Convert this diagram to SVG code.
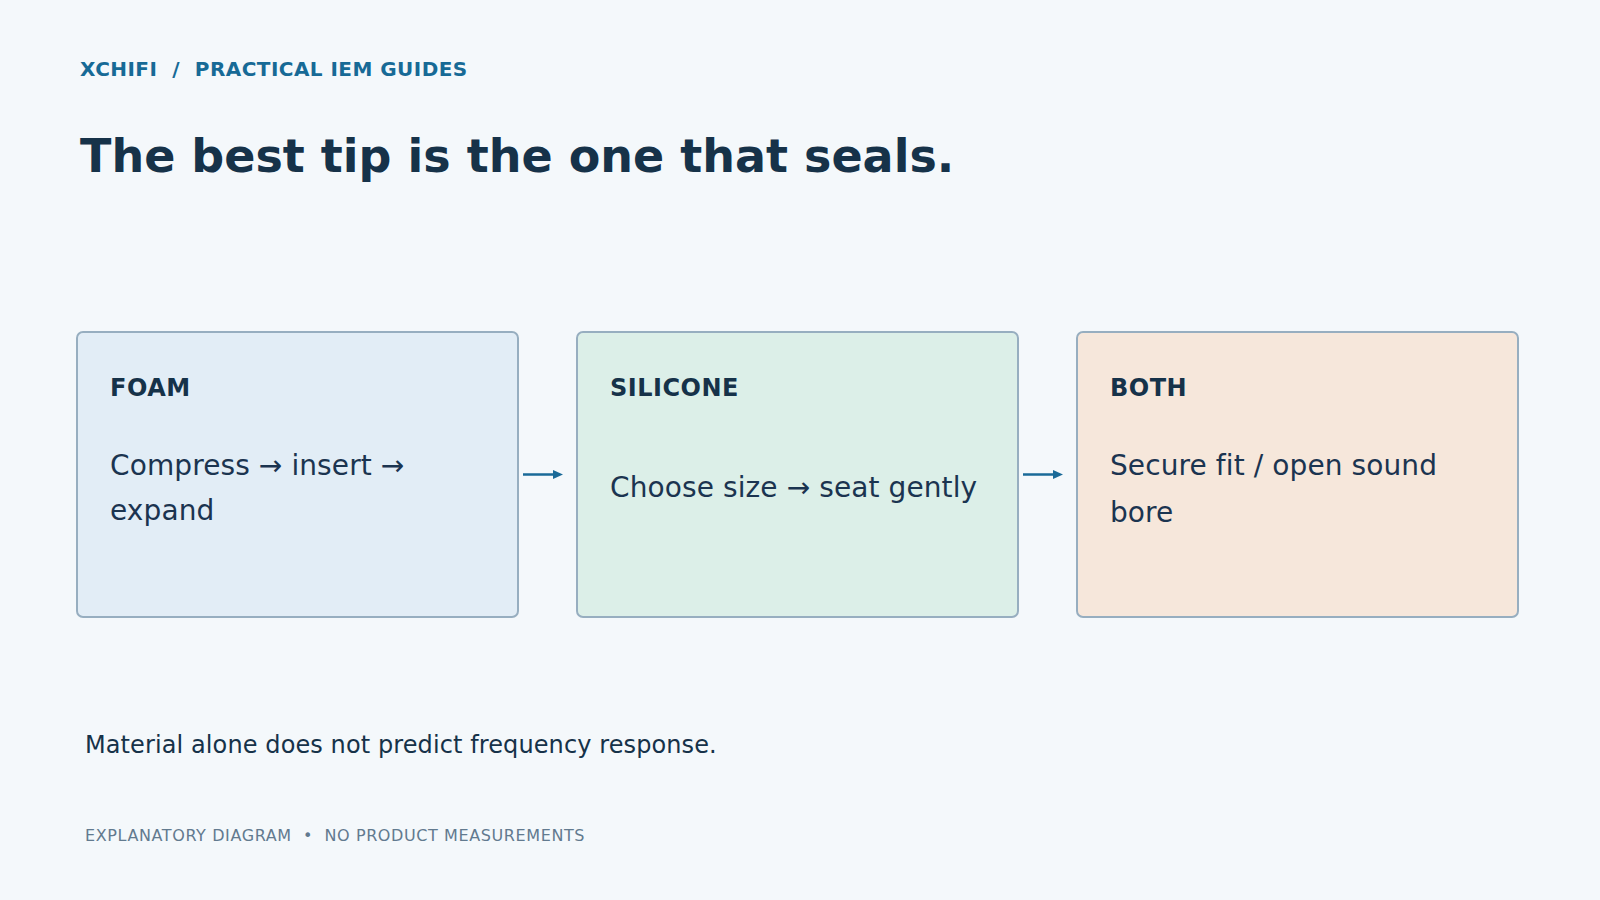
<svg xmlns="http://www.w3.org/2000/svg" width="1600" height="900" viewBox="0 0 1600 900">
  <style>
    text { font-family: "DejaVu Sans", "Liberation Sans", sans-serif; }
    .kicker { font-size: 20px; font-weight: bold; fill: #176a96; letter-spacing: 0.45px; white-space: pre; }
    .title { font-size: 46px; font-weight: bold; fill: #163249; }
    .box { stroke: #97aec0; stroke-width: 2; }
    .head { font-size: 24px; font-weight: bold; fill: #163249; letter-spacing: 0.5px; }
    .body { font-size: 28px; fill: #1b3450; letter-spacing: 0.1px; }
    .note { font-size: 24px; fill: #163249; letter-spacing: 0.1px; }
    .foot { font-size: 16px; fill: #627a8f; letter-spacing: 0.6px; white-space: pre; }
    .conn { stroke: #1a6a98; stroke-width: 2.5; fill: none; }
  </style>
  <defs>
    <marker id="arrow" markerUnits="userSpaceOnUse" markerWidth="10" markerHeight="9" refX="1" refY="4.5" orient="auto">
      <path d="M0,0 L10,4.5 L0,9 z" fill="#1a6a98"/>
    </marker>
  </defs>
  <rect x="0" y="0" width="1600" height="900" fill="#f4f8fb"/>

  <text class="kicker" x="80" y="76" xml:space="preserve">XCHIFI  /  PRACTICAL IEM GUIDES</text>
  <text class="title" x="80" y="172">The best tip is the one that seals.</text>

  <g id="node-foam">
    <rect class="box" x="77" y="332" width="441" height="285" rx="6" fill="#e2edf6"/>
    <text class="head" x="110" y="396">FOAM</text>
    <text class="body" x="110" y="475">Compress → insert →</text>
    <text class="body" x="110" y="520">expand</text>
  </g>

  <g id="node-silicone">
    <rect class="box" x="577" y="332" width="441" height="285" rx="6" fill="#dcefe8"/>
    <text class="head" x="610" y="396">SILICONE</text>
    <text class="body" x="610" y="497">Choose size → seat gently</text>
  </g>

  <g id="node-both">
    <rect class="box" x="1077" y="332" width="441" height="285" rx="6" fill="#f6e7db"/>
    <text class="head" x="1110" y="396">BOTH</text>
    <text class="body" x="1110" y="475">Secure fit / open sound</text>
    <text class="body" x="1110" y="522">bore</text>
  </g>

  <g id="connectors">
    <line class="conn" x1="523" y1="474.5" x2="554" y2="474.5" marker-end="url(#arrow)"/>
    <line class="conn" x1="1023" y1="474.5" x2="1054" y2="474.5" marker-end="url(#arrow)"/>
  </g>

  <text class="note" x="85" y="753">Material alone does not predict frequency response.</text>
  <text class="foot" x="85" y="841" xml:space="preserve">EXPLANATORY DIAGRAM  •  NO PRODUCT MEASUREMENTS</text>
</svg>
